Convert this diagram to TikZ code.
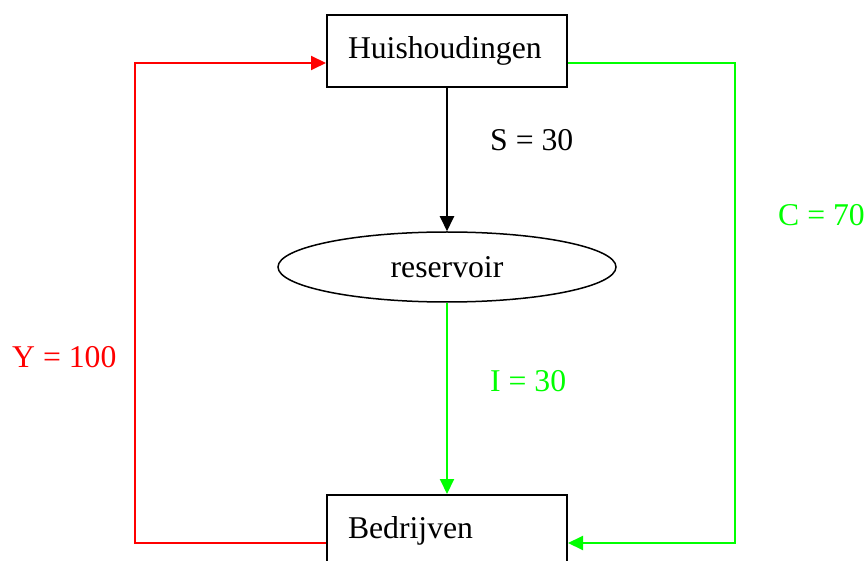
\documentclass[tikz,border=0pt]{standalone}
\usepackage{fontspec}
\setmainfont{Liberation Serif}
\usepackage{xcolor}
\usetikzlibrary{shapes,arrows,positioning,shapes.geometric,arrows.meta}
\definecolor{flowred}{RGB}{255,0,0}
\definecolor{flowgreen}{RGB}{0,255,0}

\begin{document}
\begin{tikzpicture}[x=1pt, y=-1pt, every node/.style={font=\fontsize{31.7}{38}\selectfont},
					sector/.style={draw, line width=2pt, rectangle, minimum width=240pt, minimum height=72pt, text width=198pt, align=left, inner xsep=21pt},
					pool/.style={draw, line width=1.5pt, ellipse, minimum width=338pt, minimum height=70pt},
					flow/.style={line width=2pt, -{Triangle[length=15pt,width=14pt]}},
					amount/.style={anchor=west, inner sep=0pt}]
					
					\clip (0,0) rectangle (868,561);
					
					\node[sector] (huis) at (447,51) {Huishoudingen};
					\node[sector] (bedr) at (447,531) {Bedrijven};
					\node[pool] (res) at (447,267) {reservoir};
					
					\coordinate (links) at (135,300);
					\coordinate (rechts) at (735,300);
					
					\draw[flow] (huis.south) -- (res.north);
					\draw[flow, flowgreen] (res.south) -- (bedr.north);
					\draw[flow, flowred] ([yshift=-12pt]bedr.west) -| (links) |- ([yshift=-12pt]huis.west);
					\draw[flow, flowgreen] ([yshift=-12pt]huis.east) -| (rechts) |- ([yshift=-12pt]bedr.east);
					
					\node[amount] (s) at (490,140) {S = 30};
					\node[amount, text=flowgreen] (i) at (490,381) {I = 30};
					\node[amount, text=flowred] (y) at (12,357) {Y = 100};
					\node[amount, text=flowgreen] (c) at (778,215) {C = 70};
				\end{tikzpicture}
\end{document}
